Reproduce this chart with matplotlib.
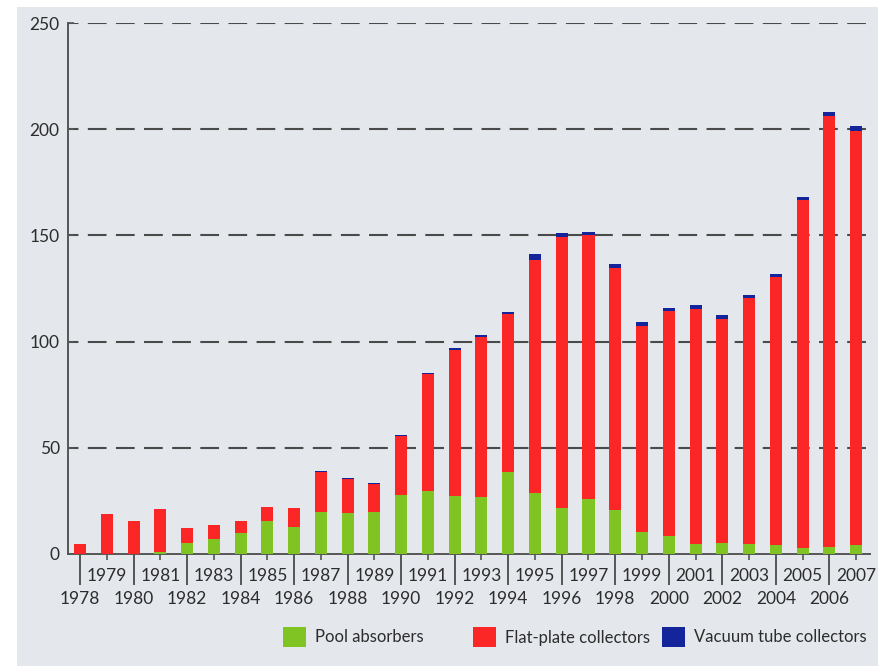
import numpy as np
import matplotlib
matplotlib.use('Agg')
import matplotlib.pyplot as plt
from matplotlib.patches import Patch, Rectangle
from matplotlib.ticker import FixedLocator

plt.rcParams['font.family'] = ['Lato', 'DejaVu Sans']

# Installed collector area per year, split by collector type
years = list(range(1978, 2008))
pool = [0, 0, 0, 1, 5.2, 7.1, 10, 15.4, 12.6, 19.8,
        19.4, 19.8, 28, 29.6, 27.3, 26.8, 38.5, 28.8, 21.6, 25.8,
        20.7, 10.5, 8.5, 4.5, 5.3, 4.7, 4.2, 2.8, 3.4, 4.2]
flat = [4.5, 18.9, 15.4, 20, 6.9, 6.4, 5.4, 6.8, 9.1, 18.7,
        16.1, 13.2, 27.7, 55, 68.7, 75.4, 74.7, 109.6, 127.7, 124.2,
        114, 97, 105.9, 111, 105.5, 115.8, 126.3, 163.7, 202.6, 194.9]
vacuum = [0, 0, 0, 0, 0, 0, 0, 0, 0, 0.5,
          0.5, 0.5, 0.5, 0.8, 0.8, 0.8, 0.8, 3, 2, 1.8,
          2, 1.5, 1.2, 1.5, 1.5, 1.5, 1.5, 1.5, 2, 2.5]
labels = ['Pool absorbers', 'Flat-plate collectors', 'Vacuum tube collectors']
colors = ['#80c424', '#fb2727', '#14249a']

bg = '#e4e8ed'
txt = '#2c2c2c'

fig = plt.figure(figsize=(8.79, 6.66), dpi=100, facecolor='white')
fig.patches.append(Rectangle((17 / 879, 0), 1, 1 - 7 / 666, transform=fig.transFigure,
                             facecolor=bg, edgecolor='none', zorder=-10))
ax = fig.add_axes([68 / 879, 1 - 554 / 666, (870 - 68) / 879, (554 - 23) / 666])
ax.set_facecolor('none')

x = np.array(years)
pool = np.array(pool)
flat = np.array(flat)
vacuum = np.array(vacuum)
w = 0.45
ax.bar(x, pool, w, color=colors[0], zorder=3)
ax.bar(x, flat, w, bottom=pool, color=colors[1], zorder=3)
ax.bar(x, vacuum, w, bottom=pool + flat, color=colors[2], zorder=3)

ax.set_xlim(1977.55, 2007.52)
ax.set_ylim(0, 250)

# dashed guide lines
for v in [50, 100, 150, 200, 250]:
    ax.axhline(v, color='#4a4a4a', lw=1.5, linestyle=(4, (9, 4.5)), zorder=1)

for s in ['top', 'right']:
    ax.spines[s].set_visible(False)
ax.spines['left'].set_color('#555555')
ax.spines['left'].set_linewidth(1.4)
ax.spines['bottom'].set_color('#555555')
ax.spines['bottom'].set_linewidth(1.4)

ax.set_yticks([0, 50, 100, 150, 200, 250])
ax.tick_params(axis='y', direction='in', length=4, width=1.2, color='#555555',
               labelsize=12.5, labelcolor=txt, pad=6)

# even years: long separators, labels on the lower row
even = [y for y in years if y % 2 == 0]
odd = [y for y in years if y % 2 == 1]
ax.xaxis.set_major_locator(FixedLocator(even))
ax.set_xticklabels([str(y) for y in even])
ax.xaxis.set_minor_locator(FixedLocator(odd))
ax.set_xticklabels([str(y) for y in odd], minor=True)
ax.tick_params(axis='x', which='major', direction='out', length=22, width=1.4,
               color='#555555', labelsize=12.5, labelcolor=txt, pad=5)
ax.tick_params(axis='x', which='minor', direction='inout', length=8, width=1.2,
               color='#555555', labelsize=12.5, labelcolor=txt, pad=6)

# one key entry per series, each at its own position along the bottom
key_x = [283, 473, 662]
for lab, c, kx in zip(labels, colors, key_x):
    fig.legend([Patch(facecolor=c, edgecolor='none')], [lab], loc='center left',
               bbox_to_anchor=(kx / 879, 1 - 637 / 666), frameon=False, fontsize=12,
               handlelength=1.4, handleheight=1.5, handletextpad=0.55,
               borderpad=0, borderaxespad=0, labelcolor=txt)

fig.savefig('out.png', dpi=100, facecolor=fig.get_facecolor())
